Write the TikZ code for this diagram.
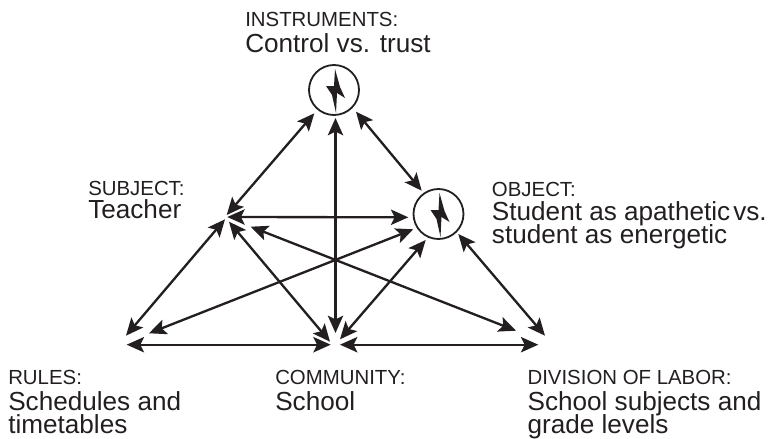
\documentclass[tikz,border=0pt]{standalone}
\usepackage{fontspec}
\setmainfont{Liberation Sans}
\usetikzlibrary{arrows.meta}
\definecolor{ink}{HTML}{231F20}
\tikzset{
  x=0.75pt,y=-0.75pt,
  link/.style={draw=ink,line width=1.75pt,{Stealth[length=13pt,width=11.5pt,inset=2.8pt]}-{Stealth[length=13pt,width=11.5pt,inset=2.8pt]}},
  ringnode/.style={circle,draw=ink,line width=1.35pt,minimum size=37.5pt,inner sep=0pt},
  small/.style={anchor=base west,inner sep=0pt,text=ink,font=\fontsize{15.3}{16}\selectfont},
  big/.style={anchor=base west,inner sep=0pt,text=ink,font=\fontsize{19.6}{20}\selectfont},
  boltpic/.pic={\fill[ink] (1,-21) -- (6,-3) -- (11,8) -- (3,3) -- (2,23) -- (-2,5) -- (-8,-4) -- (0,-4) -- cycle;},
}
\begin{document}
\begin{tikzpicture}
\useasboundingbox (0,0) rectangle (769,439);
\node[ringnode] (instr) at (334,90) {};
\node[ringnode] (obj) at (438.5,214) {};
\pic at (instr.center) {boltpic};
\pic at (obj.center) {boltpic};
\coordinate (i1) at (314.3,113.3);
\coordinate (i2) at (335.5,118);
\coordinate (i3) at (356,111.7);
\coordinate (o1) at (421.7,190.7);
\coordinate (o2) at (408.3,217.3);
\coordinate (o3) at (413.3,229.3);
\coordinate (o4) at (425.7,240);
\coordinate (o5) at (458.3,234);
\coordinate (s1) at (226.7,215);
\coordinate (s2) at (227.3,217);
\coordinate (s3) at (250.7,226.7);
\coordinate (s4) at (225,219.3);
\coordinate (s5) at (229,221.7);
\coordinate (r1) at (126,335.7);
\coordinate (r2) at (149,333.3);
\coordinate (r3) at (126.7,344.7);
\coordinate (c1) at (330,341.7);
\coordinate (c2) at (335.5,333);
\coordinate (c3) at (340,339.3);
\coordinate (c4) at (330.7,344.7);
\coordinate (c5) at (340,344.7);
\coordinate (d1) at (516,330.7);
\coordinate (d2) at (545,335.7);
\coordinate (d3) at (538.3,344.7);
\draw[link] (s1) -- (i1);
\draw[link] (c2) -- (i2);
\draw[link] (i3) -- (o1);
\draw[link] (s2) -- (o2);
\draw[link] (r2) -- (o3);
\draw[link] (s3) -- (d1);
\draw[link] (s4) -- (r1);
\draw[link] (s5) -- (c1);
\draw[link] (c3) -- (o4);
\draw[link] (r3) -- (c4);
\draw[link] (c5) -- (d3);
\draw[link] (o5) -- (d2);
\node[small] (l1) at (245,26.7) {INSTRUMENTS:};
\node[big] (l2) at (245,52.7) {Control vs. trust};
\node[small] (l3) at (88,195) {SUBJECT:};
\node[big] (l4) at (88,218.5) {Teacher};
\node[small] (l5) at (491.7,196) {OBJECT:};
\node[big] (l6) at (491.7,220) {Student as apathetic\hspace{-0.9pt}\,vs.};
\node[big] (l7) at (491.7,243.7) {student as energetic};
\node[small] (l8) at (8,384.7) {RULES:};
\node[big] (l9) at (8,410.7) {Schedules and};
\node[big] (l10) at (8,433.7) {timetables};
\node[small] (l11) at (275,384.7) {COMMUNITY:};
\node[big] (l12) at (275,410.7) {School};
\node[small] (l13) at (527.3,384.7) {DIVISION OF LABOR:};
\node[big] (l14) at (527.3,410.7) {School subjects and};
\node[big] (l15) at (527.3,433.5) {grade levels};
\end{tikzpicture}
\end{document}
